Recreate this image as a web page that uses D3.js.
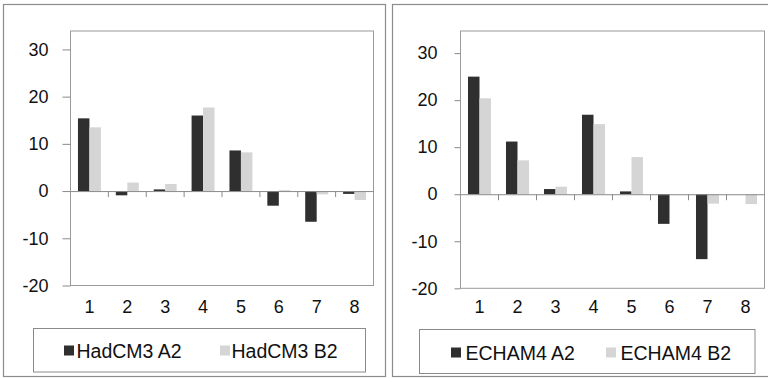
<!DOCTYPE html>
<html>
<head>
<meta charset="utf-8">
<script src="https://cdn.jsdelivr.net/npm/d3@7"></script>
<style>
  html, body { margin: 0; padding: 0; background: #fff; }
  svg { display: block; }
  text { font-family: "Liberation Sans", Arial, Helvetica, sans-serif; fill: #111; }
</style>
</head>
<body>
<svg id="chart" width="768" height="378"></svg>
<script>
// ---- data ----
const categories = ["1", "2", "3", "4", "5", "6", "7", "8"];
const yTicks = [-20, -10, 0, 10, 20, 30];
const seriesNamesLeft = ["HadCM3 A2", "HadCM3 B2"];
const seriesNamesRight = ["ECHAM4 A2", "ECHAM4 B2"];
const hadcm3A2 = [15.4, -0.9, 0.35, 16.0, 8.6, -3.1, -6.5, -0.6];
const hadcm3B2 = [13.5, 1.8, 1.5, 17.7, 8.2, 0.2, -0.7, -1.9];
const echam4A2 = [25.0, 11.2, 1.1, 16.9, 0.6, -6.3, -13.8, 0];
const echam4B2 = [20.4, 7.2, 1.6, 14.9, 7.9, 0, -2.0, -2.1];

const colors = ["#2f2f2f", "#d5d5d5"];

const svg = d3.select("#chart");

function panel(cfg) {
  const g = svg.append("g");
  // outer frame
  g.append("rect")
    .attr("x", cfg.frame[0]).attr("y", cfg.frame[1])
    .attr("width", cfg.frame[2]).attr("height", cfg.frame[3])
    .attr("fill", "none").attr("stroke", "#8c8c8c").attr("stroke-width", 1.2);

  const x0 = d3.scaleBand().domain(categories).range([cfg.left, cfg.right]).padding(0);
  const x1 = d3.scaleBand().domain([0, 1]).range([0, x0.bandwidth()]).paddingInner(0).paddingOuter(0.65);
  const y = d3.scaleLinear().domain([-20, cfg.top]).range([cfg.bottom, cfg.plotTop]);

  // plot area border
  g.append("rect")
    .attr("x", cfg.left).attr("y", cfg.plotTop)
    .attr("width", cfg.right - cfg.left).attr("height", cfg.bottom - cfg.plotTop)
    .attr("fill", "none").attr("stroke", "#9a9a9a").attr("stroke-width", 1);

  // bars
  const series = [cfg.a, cfg.b];
  series.forEach((vals, si) => {
    g.append("g").selectAll("rect").data(vals).join("rect")
      .attr("x", (d, i) => x0(categories[i]) + x1(si))
      .attr("width", x1.bandwidth())
      .attr("y", d => y(Math.max(0, d)))
      .attr("height", d => Math.abs(y(d) - y(0)))
      .attr("fill", colors[si]);
  });

  // y axis
  const yAxis = d3.axisLeft(y).tickValues(yTicks).tickSize(cfg.ytick).tickPadding(cfg.ypad).tickFormat(d => String(d));
  const ya = g.append("g").attr("transform", `translate(${cfg.left},0)`).call(yAxis);
  ya.select(".domain").remove();
  ya.selectAll(".tick line").attr("stroke", "#8a8a8a");
  ya.selectAll("text").attr("font-size", 18).attr("fill", "#111");

  // zero line with category ticks
  const xAxis = d3.axisBottom(x0).tickSize(0).tickFormat("");
  const za = g.append("g").attr("transform", `translate(0,${y(0)})`).call(xAxis);
  za.select(".domain").attr("stroke", "#8a8a8a");
  za.selectAll(".tick").remove();
  g.append("g").selectAll("line").data(categories.slice(1)).join("line")
    .attr("x1", d => x0(d)).attr("x2", d => x0(d))
    .attr("y1", y(0)).attr("y2", y(0) + 6)
    .attr("stroke", "#8a8a8a");

  // category labels
  g.append("g").selectAll("text").data(categories).join("text")
    .attr("x", d => x0(d) + x0.bandwidth() / 2)
    .attr("y", cfg.catY)
    .attr("text-anchor", "middle").attr("dominant-baseline", "central")
    .attr("font-size", 18)
    .text(d => d);

  // legend
  const lg = cfg.legend;
  g.append("rect")
    .attr("x", lg.box[0]).attr("y", lg.box[1]).attr("width", lg.box[2]).attr("height", lg.box[3])
    .attr("fill", "none").attr("stroke", "#8a8a8a").attr("stroke-width", 1);
  cfg.names.forEach((name, i) => {
    g.append("rect")
      .attr("x", lg.sq[i]).attr("y", lg.cy - 5).attr("width", 10).attr("height", 10)
      .attr("fill", colors[i]);
    g.append("text")
      .attr("x", lg.tx[i]).attr("y", lg.cy)
      .attr("dominant-baseline", "central")
      .attr("font-size", 19.5)
      .text(name);
  });
}

panel({
  frame: [3.5, 4.5, 382, 372],
  left: 70.5, right: 373.5, plotTop: 31, bottom: 285.5, top: 33.9,
  ytick: 8, ypad: 14, catY: 306.5,
  a: hadcm3A2, b: hadcm3B2, names: seriesNamesLeft,
  legend: { box: [33.5, 328.5, 332, 43.5], sq: [64, 220], tx: [76.5, 231.5], cy: 350.5 }
});

panel({
  frame: [392.5, 4.5, 400, 372],
  left: 460.5, right: 764.5, plotTop: 31, bottom: 288.3, top: 34.7,
  ytick: 6, ypad: 17, catY: 306.5,
  a: echam4A2, b: echam4B2, names: seriesNamesRight,
  legend: { box: [419.5, 329.5, 335.5, 44], sq: [451, 606], tx: [465.5, 620.5], cy: 352.5 }
});
</script>
</body>
</html>
